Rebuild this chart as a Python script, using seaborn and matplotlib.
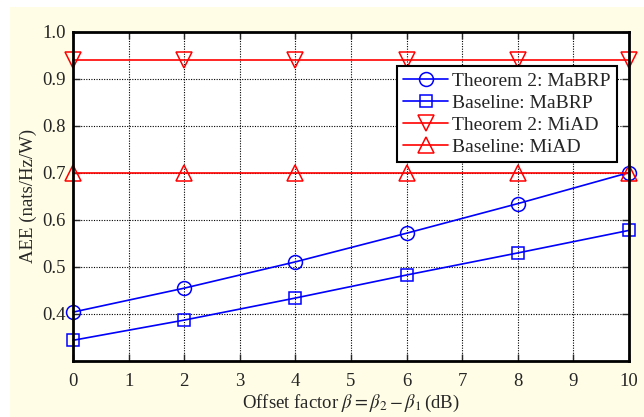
import numpy as np
import pandas as pd
import seaborn as sns
from matplotlib import pyplot as plt
from matplotlib.patches import Rectangle

# data
beta = [0, 2, 4, 6, 8, 10]
thm_mabrp = [0.403, 0.454, 0.510, 0.571, 0.634, 0.700]
base_mabrp = [0.343, 0.386, 0.433, 0.482, 0.529, 0.577]
thm_miad = [0.940, 0.940, 0.940, 0.940, 0.940, 0.940]
base_miad = [0.700, 0.700, 0.700, 0.700, 0.700, 0.700]

labels = ['Theorem 2: MaBRP', 'Baseline: MaBRP', 'Theorem 2: MiAD', 'Baseline: MiAD']
series = [thm_mabrp, base_mabrp, thm_miad, base_miad]
colors = ['#0000ff', '#0000ff', '#ff0000', '#ff0000']
markers = ['o', 's', 'v', '^']
msizes = [10, 8.5, 12, 12]

sns.set_style('ticks')
plt.rcParams['font.family'] = ['Liberation Serif', 'DejaVu Serif']
plt.rcParams['mathtext.fontset'] = 'stix'
plt.rcParams['font.size'] = 13

fig, ax = plt.subplots(figsize=(6.44, 4.17), dpi=100)
fig.patch.set_facecolor('white')
fig.patches.append(Rectangle((10 / 644, 0), 1 - 10 / 644, 1 - 7 / 417,
                             transform=fig.transFigure, facecolor='#fffde6',
                             edgecolor='none', zorder=-10))
fig.subplots_adjust(left=73 / 644, right=629 / 644, bottom=1 - 360.5 / 417, top=1 - 31.7 / 417)

for lab, vals, c, m, ms in zip(labels, series, colors, markers, msizes):
    df = pd.DataFrame({'beta': beta, 'aee': vals})
    sns.lineplot(data=df, x='beta', y='aee', ax=ax, label=lab, color=c, marker=m,
                 markersize=ms, markerfacecolor='none', markeredgecolor=c,
                 markeredgewidth=1.1, linewidth=1.2, clip_on=False)

ax.set_facecolor('white')
ax.set_xlim(0, 10)
ax.set_ylim(0.3, 1.0)
ax.set_xticks(range(0, 11))
ax.set_yticks(np.round(np.arange(0.4, 1.01, 0.1), 1))
ax.set_yticklabels([f'{v:.1f}' for v in np.arange(0.4, 1.01, 0.1)])
ax.grid(True, color='black', linestyle=(0, (1, 1.3)), linewidth=0.8)
ax.tick_params(direction='in', length=5, width=1, top=True, right=True, labelsize=13.5)
ax.tick_params(axis='x', pad=9)
ax.tick_params(axis='y', pad=5)
for s in ax.spines.values():
    s.set_linewidth(2)
    s.set_color('black')

ax.set_xlabel(r'Offset factor $\beta = \beta_2 - \beta_1\,$(dB)', fontsize=13.5, labelpad=2)
ax.set_ylabel('AEE (nats/Hz/W)', fontsize=13.5, labelpad=4)

leg = ax.legend(loc='upper right', bbox_to_anchor=(0.979, 0.897), borderaxespad=0,
                fancybox=False, frameon=True, fontsize=14, handlelength=2.3,
                handletextpad=0.2, borderpad=0.35, labelspacing=0.22)
leg.get_frame().set_edgecolor('black')
leg.get_frame().set_linewidth(1.5)
leg.get_frame().set_alpha(1)

fig.savefig('out.png', dpi=100, facecolor=fig.get_facecolor())
